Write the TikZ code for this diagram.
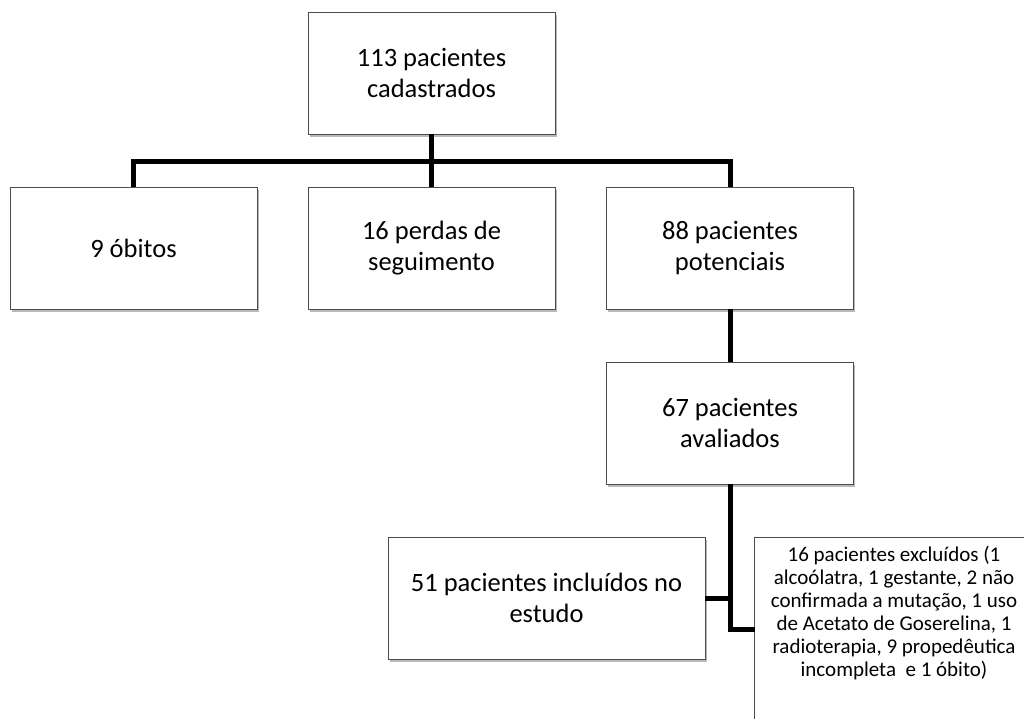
\documentclass[tikz,border=0pt]{standalone}
\usepackage{fontspec}
\setmainfont{Carlito}
\usetikzlibrary{shadows}
\begin{document}
\begin{tikzpicture}[x=1pt,y=-1pt,
  box/.style={draw=black!70, line width=0.8pt, fill=white, minimum width=247pt,
    minimum height=122pt, align=center, inner sep=0pt,
    font=\fontsize{26.5}{31}\selectfont,
    drop shadow={shadow xshift=1.5pt, shadow yshift=-3pt, fill=black!50, opacity=0.55}},
  conn/.style={line width=5pt, black},
  small/.style={align=center, inner sep=0pt, font=\fontsize{21}{23}\selectfont}]
\useasboundingbox (0,0) rectangle (1024,718);
\clip (0,0) rectangle (1024,718);
\fill[white] (0,0) rectangle (1024,718);
\coordinate (bus) at (431.5,161.5);
\coordinate (j) at (755,629);
% boxes
\node[box] (top) at (431.5,73) {113 pacientes\\cadastrados};
\node[box] (obitos) at (133.5,248) {9 óbitos};
\node[box] (perdas) at (431.5,248) {16 perdas de\\seguimento};
\node[box] (pot) at (730,248) {88 pacientes\\potenciais};
\node[box] (aval) at (730,423) {67 pacientes\\avaliados};
\node[box, minimum width=317pt] (incl) at (546.5,598) {51 pacientes incluídos no\\estudo};
\node[box, anchor=north west, minimum width=280pt, minimum height=240pt] (exc) at (754,537) {};
\node[small, anchor=north] (exctext) at (894,546) {16 pacientes excluídos (1\\alcoólatra, 1 gestante, 2 não\\confirmada a mutação, 1 uso\\de Acetato de Goserelina, 1\\radioterapia, 9 propedêutica\\incompleta\ \ e 1 óbito)};
% connectors
\draw[conn] (top.south) -- (top.south |- bus);
\draw[conn] (obitos.north) -- (obitos.north |- bus) -- (pot.north |- bus) -- (pot.north);
\draw[conn] (perdas.north) -- (perdas.north |- bus);
\draw[conn] (pot.south) -- (aval.north);
\draw[conn] (aval.south) |- (j);
\draw[conn] (incl.east) -- (incl.east -| aval.south);
\end{tikzpicture}
\end{document}
